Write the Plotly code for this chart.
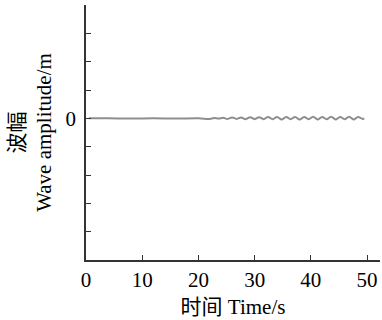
import plotly.graph_objects as go

# Data
time_s = [0.5, 4.0, 8.0, 12.0, 16.0, 20.0, 22.0,
          22.8, 23.6, 24.4, 25.2, 26.0, 26.8, 27.6, 28.4, 29.2, 30.0,
          30.8, 31.6, 32.4, 33.2, 34.0, 34.8, 35.6, 36.4, 37.2, 38.0,
          38.8, 39.6, 40.4, 41.2, 42.0, 42.8, 43.6, 44.4, 45.2, 46.0,
          46.8, 47.6, 48.4, 49.2, 49.5]
amplitude_m = [0.0, 0.0, -0.01, 0.0, -0.01, 0.0, -0.02,
               0.01, -0.01, 0.02, -0.02, 0.03, -0.02, 0.03, -0.03, 0.04, -0.03,
               0.04, -0.03, 0.05, -0.03, 0.05, -0.04, 0.05, -0.03, 0.05, -0.04,
               0.05, -0.03, 0.06, -0.04, 0.05, -0.03, 0.06, -0.04, 0.05, -0.03,
               0.06, -0.04, 0.05, -0.02, 0.0]

x_ticks = [0, 10, 20, 30, 40, 50]
y_ticks = [-4, -3, -2, -1, 0, 1, 2, 3, 4]
y_ticktext = ["", "", "", "", "0", "", "", "", ""]

font_family = "Liberation Serif, Noto Sans CJK SC, serif"

fig = go.Figure()
fig.add_trace(go.Scatter(
    x=time_s, y=amplitude_m, mode="lines",
    line=dict(color="#8e8e8e", width=2, shape="spline"),
    showlegend=False, hoverinfo="skip"))

fig.update_layout(
    width=382, height=320,
    margin=dict(l=86, r=2, t=5, b=60),
    paper_bgcolor="white", plot_bgcolor="white",
    font=dict(family=font_family, size=21, color="black"),
    xaxis=dict(
        range=[0, 52.3], tickvals=x_ticks, ticks="inside", ticklen=5,
        tickwidth=1.2, tickcolor="#333", showline=True, linecolor="#333",
        linewidth=1.5, showgrid=False, zeroline=False,
        tickfont=dict(size=21),
        title=dict(text="时间 Time/s", font=dict(size=21), standoff=8)),
    yaxis=dict(
        range=[-5, 4], tickvals=y_ticks, ticktext=y_ticktext,
        ticks="inside", ticklen=5, tickwidth=1.2, tickcolor="#333",
        showline=True, linecolor="#333", linewidth=1.5,
        showgrid=False, zeroline=False, tickfont=dict(size=21),
        ticklabelstandoff=4,
        title=dict(text="波幅<br>Wave amplitude/m", font=dict(size=21),
                   standoff=8)),
)

fig.write_html("out.html")
